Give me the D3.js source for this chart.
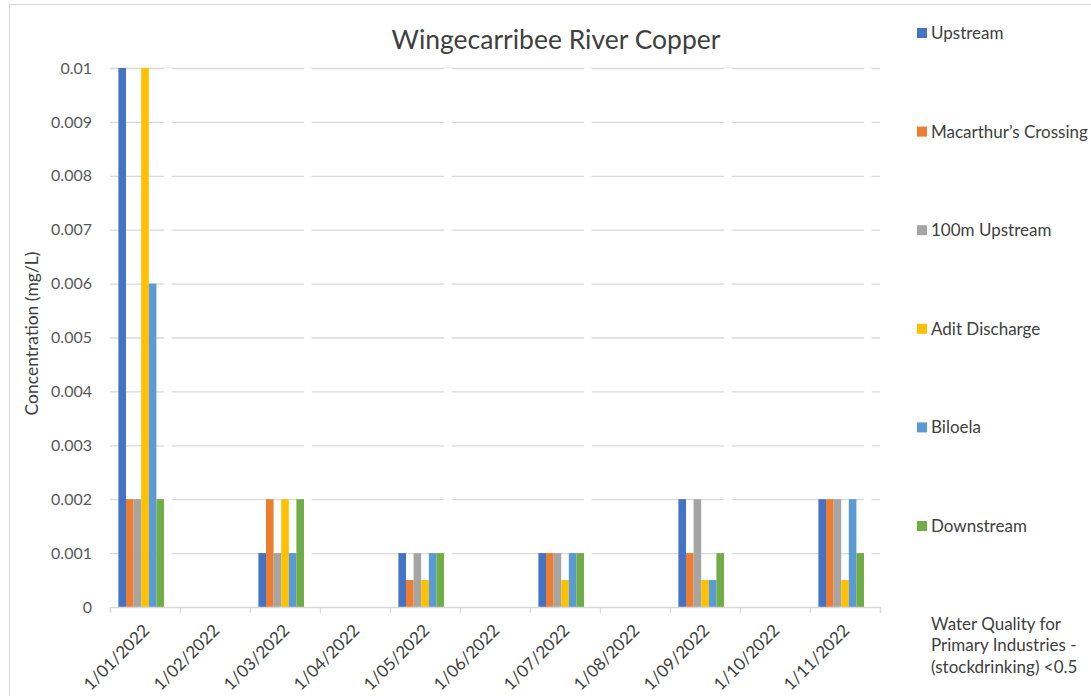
<!DOCTYPE html>
<html>
<head>
<meta charset="utf-8">
<script src="https://cdn.jsdelivr.net/npm/d3@7"></script>
<style>
  body { margin: 0; background: #fff; }
  svg { display: block; font-family: Lato, "Open Sans", sans-serif; }
</style>
</head>
<body>
<div id="chart"></div>
<script>
// datos (mg/L), null = sin muestra
var months = ['1/01/2022', '1/02/2022', '1/03/2022', '1/04/2022', '1/05/2022', '1/06/2022',
              '1/07/2022', '1/08/2022', '1/09/2022', '1/10/2022', '1/11/2022'];
var seriesNames = ['Upstream', 'Macarthur\u2019s Crossing', '100m Upstream', 'Adit Discharge',
                   'Biloela', 'Downstream', 'Water Quality for Primary Industries - (stockdrinking) <0.5'];
var upstream   = [0.01,  null, 0.001, null, 0.001,  null, 0.001,  null, 0.002,  null, 0.002];
var macarthur  = [0.002, null, 0.002, null, 0.0005, null, 0.001,  null, 0.001,  null, 0.002];
var upstream100 = [0.002, null, 0.001, null, 0.001,  null, 0.001,  null, 0.002,  null, 0.002];
var adit       = [0.01,  null, 0.002, null, 0.0005, null, 0.0005, null, 0.0005, null, 0.0005];
var biloela    = [0.006, null, 0.001, null, 0.001,  null, 0.001,  null, 0.0005, null, 0.002];
var downstream = [0.002, null, 0.002, null, 0.001,  null, 0.001,  null, 0.001,  null, 0.001];
var guideline  = [0.5,   null, 0.5,   null, 0.5,    null, 0.5,    null, 0.5,    null, 0.5];
var yTicks = [0, 0.001, 0.002, 0.003, 0.004, 0.005, 0.006, 0.007, 0.008, 0.009, 0.01];
var colors = ['#4472C4', '#ED7D31', '#A5A5A5', '#FFC000', '#5B9BD5', '#70AD47', '#FFFFFF'];

var allSeries = [upstream, macarthur, upstream100, adit, biloela, downstream, guideline];

var W = 1091, H = 696;
var margin = {top: 68, right: 211, bottom: 89, left: 110};
var width = W - margin.left - margin.right;
var height = H - margin.top - margin.bottom;

var svg = d3.select('#chart').append('svg')
  .attr('width', W)
  .attr('height', H);

// borde del area del grafico
svg.append('rect')
  .attr('x', 9.5).attr('y', 4.5)
  .attr('width', 1100).attr('height', 720)
  .attr('fill', 'white')
  .attr('stroke', '#d9d9d9');

var g = svg.append('g')
  .attr('transform', 'translate(' + margin.left + ',' + margin.top + ')');

// escalas
var x0 = d3.scaleBand()
  .domain(months)
  .range([0, width])
  .paddingInner(0.24)
  .paddingOuter(0.12);

var x1 = d3.scaleBand()
  .domain(d3.range(allSeries.length))
  .range([0, x0.bandwidth()]);

var y = d3.scaleLinear()
  .domain([0, 0.01])
  .range([height, 0])
  .clamp(true);

// lineas de cuadricula
var grid = g.append('g')
  .attr('class', 'grid')
  .call(d3.axisLeft(y).tickValues(yTicks.slice(1)).tickSize(-width).tickFormat(''));
grid.select('.domain').remove();
grid.selectAll('line').attr('stroke', '#d9d9d9').attr('stroke-width', 1.3);

// barras (la serie de referencia es blanca y tapa la cuadricula)
var groups = g.selectAll('.month')
  .data(months)
  .enter().append('g')
    .attr('class', 'month')
    .attr('transform', function(d) { return 'translate(' + x0(d) + ',0)'; });

groups.selectAll('rect')
  .data(function(d, i) {
    return allSeries.map(function(s, k) { return {k: k, v: s[i]}; })
      .filter(function(e) { return e.v != null; });
  })
  .enter().append('rect')
    .attr('x', function(e) { return x1(e.k); })
    .attr('y', function(e) { return y(e.v); })
    .attr('width', x1.bandwidth())
    .attr('height', function(e) { return height - y(e.v); })
    .attr('fill', function(e) { return colors[e.k]; });

// eje Y
var yAxisG = g.append('g')
  .call(d3.axisLeft(y).tickValues(yTicks).tickSize(0).tickPadding(18)
    .tickFormat(function(d) { return String(+d.toFixed(4)); }));
yAxisG.select('.domain').remove();
yAxisG.selectAll('text')
  .attr('font-size', 16)
  .attr('fill', '#595959')
  .attr('font-family', 'Lato, sans-serif');

// eje X (marcas entre categorias)
var xEdges = d3.scaleLinear().domain([0, months.length]).range([0, width]);
var xAxisG = g.append('g')
  .attr('transform', 'translate(0,' + height + ')')
  .call(d3.axisBottom(xEdges).tickValues(d3.range(months.length + 1)).tickSize(6).tickFormat(''));
xAxisG.selectAll('line, path').attr('stroke', '#d9d9d9').attr('stroke-width', 1.3);

g.append('g').selectAll('text')
  .data(months)
  .enter().append('text')
    .attr('transform', function(d) {
      return 'translate(' + (x0(d) + x0.bandwidth() / 2 - 3) + ',' + (height + 16) + ') rotate(-45)';
    })
    .attr('text-anchor', 'end')
    .attr('dy', '0.71em')
    .attr('font-size', 17)
    .attr('fill', '#404040')
    .text(function(d) { return d; });

// titulo
svg.append('text')
  .attr('x', 556).attr('y', 49)
  .attr('text-anchor', 'middle')
  .attr('font-size', 26.5)
  .attr('fill', '#404040')
  .text('Wingecarribee River Copper');

// titulo eje Y
svg.append('text')
  .attr('transform', 'translate(38,' + (margin.top + height / 2 - 4) + ') rotate(-90)')
  .attr('text-anchor', 'middle')
  .attr('font-size', 17.5)
  .attr('fill', '#404040')
  .text('Concentration (mg/L)');

// leyenda
var legend = svg.append('g').attr('transform', 'translate(917,33)');
var items = legend.selectAll('g')
  .data(seriesNames.slice(0, 6))
  .enter().append('g')
    .attr('transform', function(d, i) { return 'translate(0,' + (i * 98.6) + ')'; });
items.append('rect')
  .attr('x', 0).attr('y', -5)
  .attr('width', 10).attr('height', 10)
  .attr('fill', function(d, i) { return colors[i]; });
items.append('text')
  .attr('x', 14).attr('dy', '0.35em')
  .attr('font-size', 17)
  .attr('fill', '#404040')
  .text(function(d) { return d; });

var wq = legend.append('text')
  .attr('x', 14).attr('y', 6 * 98.6 - 1)
  .attr('font-size', 17)
  .attr('fill', '#404040');
['Water Quality for', 'Primary Industries -', '(stockdrinking) <0.5'].forEach(function(line, i) {
  wq.append('tspan').attr('x', 14).attr('dy', i === 0 ? '0.35em' : 21.5).text(line);
});
</script>
</body>
</html>
